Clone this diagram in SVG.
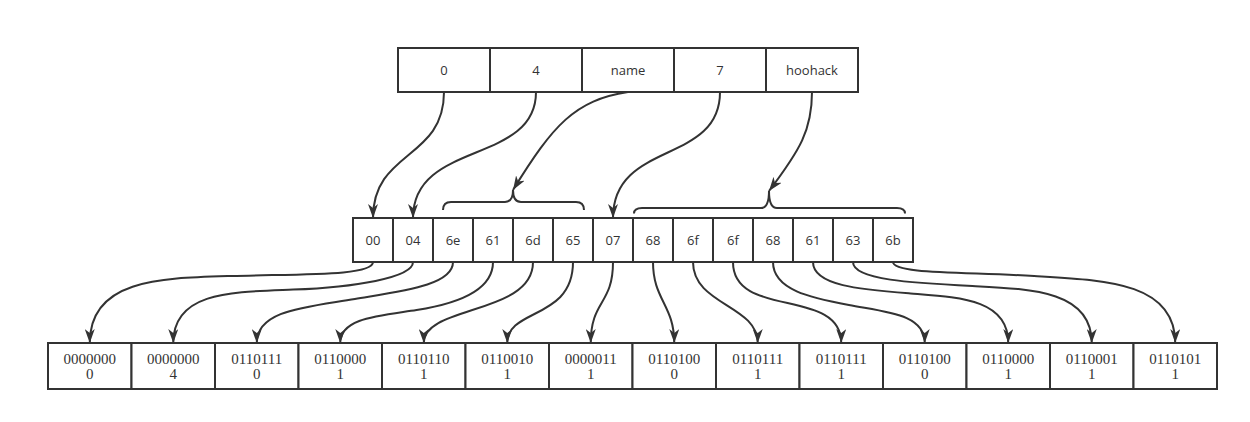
<svg xmlns="http://www.w3.org/2000/svg" width="1250" height="422" viewBox="0 0 1250 422">
<style>
.box{fill:#fff;stroke:#333;stroke-width:2}
.t{font-family:"Open Sans","Noto Sans",sans-serif;font-size:13px;fill:#333;text-anchor:middle}
.b{font-family:"Liberation Serif",serif;font-size:15px;fill:#333;text-anchor:middle}
.c{fill:none;stroke:#333;stroke-width:2;marker-end:url(#arr)}
.br{fill:none;stroke:#333;stroke-width:2}
</style>
<defs>
<marker id="arr" markerUnits="userSpaceOnUse" markerWidth="14" markerHeight="10" viewBox="0 0 14 10" refX="14" refY="5" orient="auto">
<path d="M0,0 L14,5 L0,10 L4,5 z" fill="#333"/>
</marker>
</defs>
<rect width="1250" height="422" fill="#fff"/>

<g id="top">
<g id="t0"><rect class="box" x="398" y="48" width="92" height="44"/><text class="t" x="444" y="75">0</text></g>
<g id="t1"><rect class="box" x="490" y="48" width="92" height="44"/><text class="t" x="536" y="75">4</text></g>
<g id="t2"><rect class="box" x="582" y="48" width="92" height="44"/><text class="t" x="628" y="75">name</text></g>
<g id="t3"><rect class="box" x="674" y="48" width="92" height="44"/><text class="t" x="720" y="75">7</text></g>
<g id="t4"><rect class="box" x="766" y="48" width="92" height="44"/><text class="t" x="812" y="75">hoohack</text></g>
</g>

<g id="mid">
<g id="m0"><rect class="box" x="353" y="218" width="40" height="44"/><text class="t" x="373" y="245">00</text></g>
<g id="m1"><rect class="box" x="393" y="218" width="40" height="44"/><text class="t" x="413" y="245">04</text></g>
<g id="m2"><rect class="box" x="433" y="218" width="40" height="44"/><text class="t" x="453" y="245">6e</text></g>
<g id="m3"><rect class="box" x="473" y="218" width="40" height="44"/><text class="t" x="493" y="245">61</text></g>
<g id="m4"><rect class="box" x="513" y="218" width="40" height="44"/><text class="t" x="533" y="245">6d</text></g>
<g id="m5"><rect class="box" x="553" y="218" width="40" height="44"/><text class="t" x="573" y="245">65</text></g>
<g id="m6"><rect class="box" x="593" y="218" width="40" height="44"/><text class="t" x="613" y="245">07</text></g>
<g id="m7"><rect class="box" x="633" y="218" width="40" height="44"/><text class="t" x="653" y="245">68</text></g>
<g id="m8"><rect class="box" x="673" y="218" width="40" height="44"/><text class="t" x="693" y="245">6f</text></g>
<g id="m9"><rect class="box" x="713" y="218" width="40" height="44"/><text class="t" x="733" y="245">6f</text></g>
<g id="m10"><rect class="box" x="753" y="218" width="40" height="44"/><text class="t" x="773" y="245">68</text></g>
<g id="m11"><rect class="box" x="793" y="218" width="40" height="44"/><text class="t" x="813" y="245">61</text></g>
<g id="m12"><rect class="box" x="833" y="218" width="40" height="44"/><text class="t" x="853" y="245">63</text></g>
<g id="m13"><rect class="box" x="873" y="218" width="40" height="44"/><text class="t" x="893" y="245">6b</text></g>
</g>

<g id="braces">
<path class="br" d="M443,210 Q443,202 451,202 L505,202 Q513,202 513,190 Q513,202 521,202 L576,202 Q584,202 584,210"/>
<path class="br" d="M634,213.5 Q634,208 642,208 L761,208 Q769,208 769,191 Q769,208 777,208 L897,208 Q905,208 905,213.5"/>
</g>

<g id="bottom">
<g id="b0"><rect class="box" x="48" y="343" width="83.5" height="46"/><text class="b" x="89.75" y="364"><tspan x="89.75">0000000</tspan><tspan x="89.75" dy="15">0</tspan></text></g>
<g id="b1"><rect class="box" x="131.5" y="343" width="83.5" height="46"/><text class="b" x="173.25" y="364"><tspan x="173.25">0000000</tspan><tspan x="173.25" dy="15">4</tspan></text></g>
<g id="b2"><rect class="box" x="215" y="343" width="83.5" height="46"/><text class="b" x="256.75" y="364"><tspan x="256.75">0110111</tspan><tspan x="256.75" dy="15">0</tspan></text></g>
<g id="b3"><rect class="box" x="298.5" y="343" width="83.5" height="46"/><text class="b" x="340.25" y="364"><tspan x="340.25">0110000</tspan><tspan x="340.25" dy="15">1</tspan></text></g>
<g id="b4"><rect class="box" x="382" y="343" width="83.5" height="46"/><text class="b" x="423.75" y="364"><tspan x="423.75">0110110</tspan><tspan x="423.75" dy="15">1</tspan></text></g>
<g id="b5"><rect class="box" x="465.5" y="343" width="83.5" height="46"/><text class="b" x="507.25" y="364"><tspan x="507.25">0110010</tspan><tspan x="507.25" dy="15">1</tspan></text></g>
<g id="b6"><rect class="box" x="549" y="343" width="83.5" height="46"/><text class="b" x="590.75" y="364"><tspan x="590.75">0000011</tspan><tspan x="590.75" dy="15">1</tspan></text></g>
<g id="b7"><rect class="box" x="632.5" y="343" width="83.5" height="46"/><text class="b" x="674.25" y="364"><tspan x="674.25">0110100</tspan><tspan x="674.25" dy="15">0</tspan></text></g>
<g id="b8"><rect class="box" x="716" y="343" width="83.5" height="46"/><text class="b" x="757.75" y="364"><tspan x="757.75">0110111</tspan><tspan x="757.75" dy="15">1</tspan></text></g>
<g id="b9"><rect class="box" x="799.5" y="343" width="83.5" height="46"/><text class="b" x="841.25" y="364"><tspan x="841.25">0110111</tspan><tspan x="841.25" dy="15">1</tspan></text></g>
<g id="b10"><rect class="box" x="883" y="343" width="83.5" height="46"/><text class="b" x="924.75" y="364"><tspan x="924.75">0110100</tspan><tspan x="924.75" dy="15">0</tspan></text></g>
<g id="b11"><rect class="box" x="966.5" y="343" width="83.5" height="46"/><text class="b" x="1008.25" y="364"><tspan x="1008.25">0110000</tspan><tspan x="1008.25" dy="15">1</tspan></text></g>
<g id="b12"><rect class="box" x="1050" y="343" width="83.5" height="46"/><text class="b" x="1091.75" y="364"><tspan x="1091.75">0110001</tspan><tspan x="1091.75" dy="15">1</tspan></text></g>
<g id="b13"><rect class="box" x="1133.5" y="343" width="83.5" height="46"/><text class="b" x="1175.25" y="364"><tspan x="1175.25">0110101</tspan><tspan x="1175.25" dy="15">1</tspan></text></g>
</g>

<g id="connectors">
<path class="c" d="M444,92 C444,160 373,150 373,218"/>
<path class="c" d="M536,92 C536,165 413,140 413,218"/>
<path class="c" d="M628,92 C575,100 553,125 513,190"/>
<path class="c" d="M720,92 C720,165 613,140 613,218"/>
<path class="c" d="M812,92 C812,130 800,150 769,191"/>

<path class="c" d="M373,262 C373,276 302.2,273.9 231.4,276 C160.6,278.1 89.75,279 89.75,343"/>
<path class="c" d="M413,262 C413,278 353,287.2 293.1,289.6 C233.2,292 173.25,291 173.25,343"/>
<path class="c" d="M453,262 C453,285 403.9,290.7 354.9,299 C305.9,307.3 256.75,310 256.75,343"/>
<path class="c" d="M493,262 C493,292 454.8,304.1 416.6,310 C378.4,315.9 340.25,318 340.25,343"/>
<path class="c" d="M533,262 C533,315 423.75,305 423.75,343"/>
<path class="c" d="M573,262 C573,320 507.25,308 507.25,343"/>
<path class="c" d="M613,262 C613,305 590.75,300 590.75,343"/>
<path class="c" d="M653,262 C653,300 674.25,305 674.25,343"/>
<path class="c" d="M693,262 C693,305 757.75,305 757.75,343"/>
<path class="c" d="M733,262 C733,319.5 841.25,286.8 841.25,343"/>
<path class="c" d="M773,262 C773,290 811,297.8 848.9,305 C886.8,312.2 924.75,314 924.75,343"/>
<path class="c" d="M813,262 C813,286 861.8,289.6 910.6,293.5 C959.4,297.4 1008.25,299 1008.25,343"/>
<path class="c" d="M853,262 C853,280 912.7,283 972.4,286 C1032.1,289 1091.75,291 1091.75,343"/>
<path class="c" d="M893,262 C893,274 963.5,271.8 1034.1,276 C1104.7,280.2 1175.25,282 1175.25,343"/>
</g>
</svg>
